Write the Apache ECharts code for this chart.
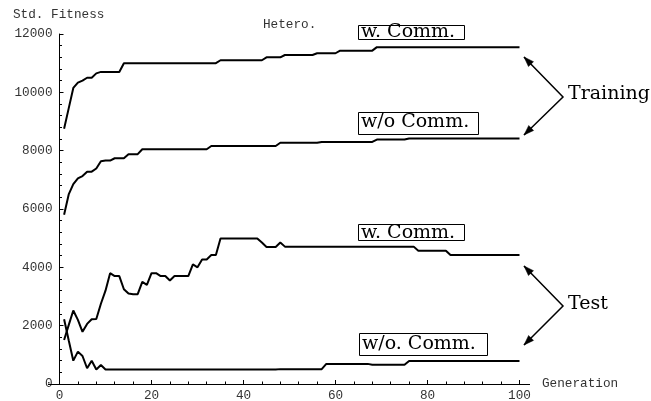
<!DOCTYPE html>
<html>
<head>
<meta charset="utf-8">
<script src="https://cdn.jsdelivr.net/npm/echarts@6.0.0/dist/echarts.min.js"></script>
<style>
html,body{margin:0;padding:0;background:#fff;overflow:hidden;}
#chart{width:651px;height:401px;}
</style>
</head>
<body>
<div id="chart"></div>
<script>
// Generations 1..100 (x), standardized fitness (y)
var trainW = [
  8750, 9450, 10150, 10330, 10400, 10500, 10500, 10650, 10700, 10700,
  10700, 10700, 10700, 11000, 11000, 11000, 11000, 11000, 11000, 11000,
  11000, 11000, 11000, 11000, 11000, 11000, 11000, 11000, 11000, 11000,
  11000, 11000, 11000, 11000, 11100, 11100, 11100, 11100, 11100, 11100,
  11100, 11100, 11100, 11100, 11200, 11200, 11200, 11200, 11280, 11280,
  11280, 11280, 11280, 11280, 11280, 11340, 11340, 11340, 11340, 11340,
  11430, 11430, 11430, 11430, 11430, 11430, 11430, 11430, 11550, 11550,
  11550, 11550, 11550, 11550, 11550, 11550, 11550, 11550, 11550, 11550,
  11550, 11550, 11550, 11550, 11550, 11550, 11550, 11550, 11550, 11550,
  11550, 11550, 11550, 11550, 11550, 11550, 11550, 11550, 11550, 11550
];
var trainWo = [
  5800, 6500, 6850, 7050, 7130, 7280, 7280, 7390, 7640, 7660,
  7660, 7740, 7740, 7740, 7880, 7880, 7880, 8050, 8050, 8050,
  8050, 8050, 8050, 8050, 8050, 8050, 8050, 8050, 8050, 8050,
  8050, 8050, 8160, 8160, 8160, 8160, 8160, 8160, 8160, 8160,
  8160, 8160, 8160, 8160, 8160, 8160, 8160, 8270, 8270, 8270,
  8270, 8270, 8270, 8270, 8270, 8270, 8300, 8300, 8300, 8300,
  8300, 8300, 8300, 8300, 8300, 8300, 8300, 8300, 8380, 8380,
  8380, 8380, 8380, 8380, 8380, 8420, 8420, 8420, 8420, 8420,
  8420, 8420, 8420, 8420, 8420, 8420, 8420, 8420, 8420, 8420,
  8420, 8420, 8420, 8420, 8420, 8420, 8420, 8420, 8420, 8420
];
var testW = [
  1510, 2020, 2520, 2200, 1790, 2060, 2220, 2230, 2750, 3200,
  3800, 3700, 3700, 3250, 3100, 3080, 3080, 3500, 3400, 3800,
  3800, 3700, 3700, 3550, 3700, 3700, 3700, 3700, 4100, 4000,
  4270, 4270, 4420, 4420, 4990, 4990, 4990, 4990, 4990, 4990,
  4990, 4990, 4990, 4850, 4700, 4700, 4700, 4850, 4710, 4710,
  4710, 4710, 4710, 4710, 4710, 4710, 4710, 4710, 4710, 4710,
  4710, 4710, 4710, 4710, 4710, 4710, 4710, 4710, 4710, 4710,
  4710, 4710, 4710, 4710, 4710, 4710, 4710, 4570, 4570, 4570,
  4570, 4570, 4570, 4570, 4420, 4420, 4420, 4420, 4420, 4420,
  4420, 4420, 4420, 4420, 4420, 4420, 4420, 4420, 4420, 4420
];
var testWo = [
  2220, 1500, 800, 1110, 960, 540, 800, 500, 650, 500,
  500, 500, 500, 500, 500, 500, 500, 500, 500, 500,
  500, 500, 500, 500, 500, 500, 500, 500, 500, 500,
  500, 500, 500, 500, 500, 500, 500, 500, 500, 500,
  500, 500, 500, 500, 500, 500, 500, 510, 510, 510,
  510, 510, 510, 510, 510, 510, 510, 690, 690, 690,
  690, 690, 690, 690, 690, 690, 690, 660, 660, 660,
  660, 660, 660, 660, 660, 790, 790, 790, 790, 790,
  790, 790, 790, 790, 790, 790, 790, 790, 790, 790,
  790, 790, 790, 790, 790, 790, 790, 790, 790, 790
];
var curveLabels = ["w. Comm.", "w/o Comm.", "w. Comm.", "w/o. Comm."];
var groupLabels = ["Training", "Test"];

function pairs(arr) {
  var out = [];
  for (var i = 0; i < arr.length; i++) out.push([i + 1, arr[i]]);
  return out;
}

var mono = "'Liberation Mono', 'DejaVu Sans Mono', monospace";
var serif = "'DejaVu Serif', 'Liberation Serif', serif";

function arrowHead(tx, ty, fx, fy) {
  var dx = tx - fx, dy = ty - fy;
  var L = Math.sqrt(dx * dx + dy * dy);
  dx /= L; dy /= L;
  var len = 10, w = 3.5;
  var bx = tx - dx * len, by = ty - dy * len;
  return {
    type: 'polygon',
    shape: { points: [[tx, ty], [bx - dy * w, by + dx * w], [bx + dy * w, by - dx * w]] },
    style: { fill: '#000', stroke: '#000', lineWidth: 0.5 },
    silent: true
  };
}

function bracket(vx, vy, ux, uy, lx, ly) {
  return [
    { type: 'polyline', shape: { points: [[ux, uy], [vx, vy], [lx, ly]] },
      style: { stroke: '#000', lineWidth: 1.5, fill: null }, silent: true },
    arrowHead(ux, uy, vx, vy),
    arrowHead(lx, ly, vx, vy)
  ];
}

function boxed(text, bx, by, bw, bh, tx, ty) {
  return [
    { type: 'rect', shape: { x: bx + 0.5, y: by + 0.5, width: bw, height: bh },
      style: { fill: null, stroke: '#000', lineWidth: 1 }, silent: true },
    { type: 'text', x: tx, y: ty,
      style: { text: text, font: '19px ' + serif, fill: '#000', textAlign: 'left', textVerticalAlign: 'middle' }, silent: true }
  ];
}

var graphics = [];
graphics.push({ type: 'text', x: 13, y: 15, style: { text: 'Std. Fitness', font: '12.7px ' + mono, fill: '#333', textVerticalAlign: 'middle' } });
graphics.push({ type: 'text', x: 263, y: 25, style: { text: 'Hetero.', font: '12.7px ' + mono, fill: '#333', textVerticalAlign: 'middle' } });
graphics.push({ type: 'text', x: 542, y: 384, style: { text: 'Generation', font: '12.7px ' + mono, fill: '#333', textVerticalAlign: 'middle' } });
graphics = graphics.concat(boxed(curveLabels[0], 358, 25, 106, 14, 361, 32));
graphics = graphics.concat(boxed(curveLabels[1], 358, 112, 120, 22, 361, 122));
graphics = graphics.concat(boxed(curveLabels[2], 358, 224, 106, 16, 361, 233));
graphics = graphics.concat(boxed(curveLabels[3], 359, 333, 128, 22, 362, 344));
graphics.push({ type: 'text', x: 568, y: 94, style: { text: groupLabels[0], font: '19px ' + serif, fill: '#000', textVerticalAlign: 'middle' } });
graphics.push({ type: 'text', x: 568, y: 304, style: { text: groupLabels[1], font: '19px ' + serif, fill: '#000', textVerticalAlign: 'middle' } });
graphics = graphics.concat(bracket(563, 97, 524, 57, 524, 135));
graphics = graphics.concat(bracket(563, 306, 524, 266, 524, 345));
// extension of the horizontal axis line beyond 0..100, as in the original plot
graphics.push({ type: 'line', shape: { x1: 48, y1: 384.5, x2: 530, y2: 384.5 }, style: { stroke: '#000', lineWidth: 1 }, silent: true, z: 10 });

var lineStyle = { color: '#000', width: 2 };
function series(name, arr) {
  return { name: name, type: 'line', data: pairs(arr), showSymbol: false, symbol: 'none',
    lineStyle: lineStyle, itemStyle: { color: '#000' },
    silent: true, animation: false, z: 3 };
}

var chart = echarts.init(document.getElementById('chart'), null, { renderer: 'canvas' });
chart.setOption({
  animation: false,
  backgroundColor: '#fff',
  grid: { left: 59.5, right: 131.5, top: 34, bottom: 17, containLabel: false, outerBoundsMode: 'none' },
  xAxis: {
    type: 'value', min: 0, max: 100, interval: 20,
    axisLine: { show: true, onZero: false, lineStyle: { color: '#000', width: 1 } },
    axisTick: { show: true, inside: true, length: 4, lineStyle: { color: '#000' } },
    minorTick: { show: true, splitNumber: 5, length: 2.5, lineStyle: { color: '#000' } },
    axisLabel: { show: true, margin: 5, color: '#333', fontFamily: mono, fontSize: 12.7 },
    splitLine: { show: false }
  },
  yAxis: {
    type: 'value', min: 0, max: 12000, interval: 2000,
    axisLine: { show: true, onZero: false, lineStyle: { color: '#000', width: 1 } },
    axisTick: { show: true, inside: true, length: 4, lineStyle: { color: '#000' } },
    minorTick: { show: true, splitNumber: 5, length: 2.5, lineStyle: { color: '#000' } },
    axisLabel: { margin: 7, color: '#333', fontFamily: mono, fontSize: 12.7, formatter: function (v) { return String(v); } },
    splitLine: { show: false }
  },
  series: [
    series('Training w. Comm.', trainW),
    series('Training w/o Comm.', trainWo),
    series('Test w. Comm.', testW),
    series('Test w/o. Comm.', testWo)
  ],
  graphic: graphics
});
</script>
</body>
</html>
